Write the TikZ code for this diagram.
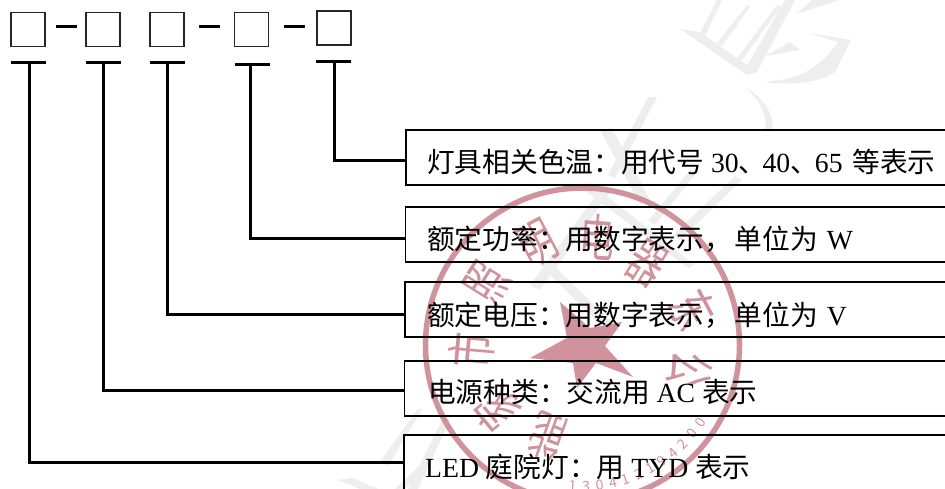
\documentclass[tikz,border=0pt]{standalone}
\usepackage{fontspec}
\setmainfont{Liberation Serif}
\newfontfamily\cjk{Noto Sans CJK SC}
\definecolor{wmgray}{RGB}{238,238,238}
\definecolor{stampred}{RGB}{208,146,156}
\tikzset{
  x=1pt,y=-1pt,
  wm/.style={fill=wmgray,draw=none},
  ring/.style={draw=stampred,line width=5.5pt},
  stampstar/.style={fill=stampred,draw=none},
  stampch/.style={text=stampred,font=\cjk\fontsize{35}{35}\selectfont,inner sep=0pt},
  stampnum/.style={text=stampred,font=\cjk\fontsize{14}{14}\selectfont,inner sep=0pt},
  slot/.style={draw=black!85,line width=1.8pt,minimum width=34pt,minimum height=34pt,inner sep=0pt,fill=none},
  dashbar/.style={line width=3pt,draw=black},
  topbar/.style={line width=3pt,draw=black},
  conn/.style={line width=3pt,draw=black},
  infobox/.style={draw=black,line width=1.6pt},
  label/.style={anchor=base west,inner sep=0pt,text=black,font=\fontsize{27.7}{28}\selectfont},
}
\newcommand{\zh}[1]{{\cjk #1}}
\newcommand{\tall}[1]{\scalebox{1}[1.45]{#1}}
\begin{document}
\begin{tikzpicture}
\useasboundingbox (0,0) rectangle (945,489);
\begin{scope}
\clip (0,0) rectangle (945,489);
% watermark
\fill[wm] (680,29) -- (747,75) -- (757,72) -- (700,32) -- cycle;
\fill[wm] (700,33) -- (717,0) -- (722,0) -- (705,36) -- cycle;
\fill[wm] (717,43) -- (747,5) -- (750,7) -- (722,46) -- cycle;
\fill[wm] (737,58) -- (777,5) -- (781,7) -- (741,61) -- cycle;
\fill[wm] (743,73) -- (785,0) -- (795,0) -- (757,72) -- cycle;
\fill[wm] (796,14) -- (840,0) -- (812,0) -- cycle;
\fill[wm] (765,56) -- (800,50) -- (790,42) -- cycle;
\fill[wm] (809,33) -- (851,40) -- (835,72) .. controls (815,85) and (785,85) .. (763,82) .. controls (790,80) and (815,75) .. (838,42) -- cycle;
\fill[wm] (747,88) .. controls (765,100) and (775,115) .. (772,132) -- (765,130) .. controls (768,115) and (760,103) .. (747,88) -- cycle;
\fill[wm] (657,97) -- (648,97) -- (608,175) -- (615,178) -- cycle;
\fill[wm] (600,130) -- (612,128) -- (650,200) -- (640,204) -- cycle;
\fill[wm] (580,187) -- (590,183) -- (695,265) -- (688,268) -- cycle;
\fill[wm] (735,176) -- (742,180) -- (680,240) -- (673,235) -- cycle;
\fill[wm] (690,170) -- (697,172) -- (655,225) -- (648,221) -- cycle;
\fill[wm] (600,190) -- (610,192) -- (540,290) -- (530,285) -- cycle;
\fill[wm] (540,265) -- (548,260) -- (620,330) -- (610,335) -- cycle;
\fill[wm] (417,410) -- (423,408) -- (388,466) -- (380,462) -- cycle;
\fill[wm] (337,480) -- (353,478) -- (378,489) -- (360,489) -- cycle;
\fill[wm] (420,465) -- (426,468) -- (405,489) -- (395,489) -- cycle;
\fill[wm] (443,418) -- (450,420) -- (418,489) -- (408,489) -- cycle;
% stamp
\draw[ring] (582.5,345) circle[radius=157];
\fill[stampstar] (560,302) -- (590,328) -- (622,322) -- (605,346) -- (633,377) -- (596,363) -- (577,388) -- (573,363) -- (530,358) -- (567,338) -- cycle;
\node[stampch,rotate=85]  at (472,350) {\tall{市}};
\node[stampch,rotate=58] at (487,283) {\tall{照}};
\node[stampch,rotate=28] at (537,243) {\tall{明}};
\node[stampch,rotate=-4]   at (597,237) {\tall{电}};
\node[stampch,rotate=-32]  at (647,263) {\tall{器}};
\node[stampch,rotate=-62]  at (693,310) {\tall{东}};
\node[stampch,rotate=-100] at (690,370) {\tall{公}};
\node[stampch,rotate=130] at (497,410) {\tall{家}};
\node[stampch,rotate=160] at (547,437) {\tall{能}};
\foreach \d [count=\i] in {1,3,0,4,1,2,1,9,4,2,0,0}{
  \pgfmathsetmacro{\ang}{94-(\i-1)*5.5}
  \pgfmathsetmacro{\px}{582.5+141*cos(\ang)}
  \pgfmathsetmacro{\py}{345+141*sin(\ang)}
  \pgfmathsetmacro{\rot}{90-\ang}
  \node[stampnum,rotate=\rot] at (\px,\py) {\d};
}
\end{scope}
% slots
\node[slot] (s1) at (28,29.5) {};
\node[slot] (s2) at (103,29.5) {};
\node[slot] (s3) at (167,29.5) {};
\node[slot] (s4) at (251.5,29.5) {};
\node[slot] (s5) at (334,28) {};
\draw[dashbar] (56,27) -- (77,27);
\draw[dashbar] (199,27) -- (220,27);
\draw[dashbar] (284,27) -- (305,27);
\draw[topbar] (11,63) -- (46,63);
\draw[topbar] (86,63) -- (121,63);
\draw[topbar] (150,63) -- (185,63);
\draw[topbar] (235,64.5) -- (270,64.5);
\draw[topbar] (316,62) -- (351,62);
% boxes (run past the right edge)
\begin{scope}
\clip (0,0) rectangle (945,489);
\draw[infobox] (950,130) -- (406,130) -- (406,185) -- (950,185);
\draw[infobox] (950,207) -- (405.5,207) -- (405.5,262) -- (950,262);
\draw[infobox] (950,282) -- (405,282) -- (405,337) -- (950,337);
\draw[infobox] (950,361) -- (404.5,361) -- (404.5,416) -- (950,416);
\draw[infobox] (950,435) -- (404,435) -- (404,495);
\end{scope}
\coordinate (b1) at (406,161);
\coordinate (b2) at (405.5,238.5);
\coordinate (b3) at (405,314.5);
\coordinate (b4) at (404.5,390);
\coordinate (b5) at (404,462.5);
\draw[conn] (334.5,62) |- (b1);
\draw[conn] (250.5,64.5) |- (b2);
\draw[conn] (167.5,63) |- (b3);
\draw[conn] (103.5,63) |- (b4);
\draw[conn] (29.5,63) |- (b5);
% labels
\node[label] (t1) at (427,173) {\zh{灯具相关色温：用代号} 30\zh{、}\hspace{-4pt}40\zh{、}\hspace{-3pt}65\hspace{3pt} \zh{等表示}};
\node[label] (t2) at (427,250) {\zh{额定功率：用数字表示，}\hspace{3pt}\zh{单位为}\hspace{2pt} W};
\node[label] (t3) at (427,325) {\zh{额定电压：用数字表示，}\hspace{3pt}\zh{单位为}\hspace{2pt} V};
\node[label] (t4) at (428,402) {\zh{电源种类：交流用} AC \zh{表示}};
\node[label] (t5) at (425,477) {LED \zh{庭院灯：用} TYD \zh{表示}};
\end{tikzpicture}
\end{document}
